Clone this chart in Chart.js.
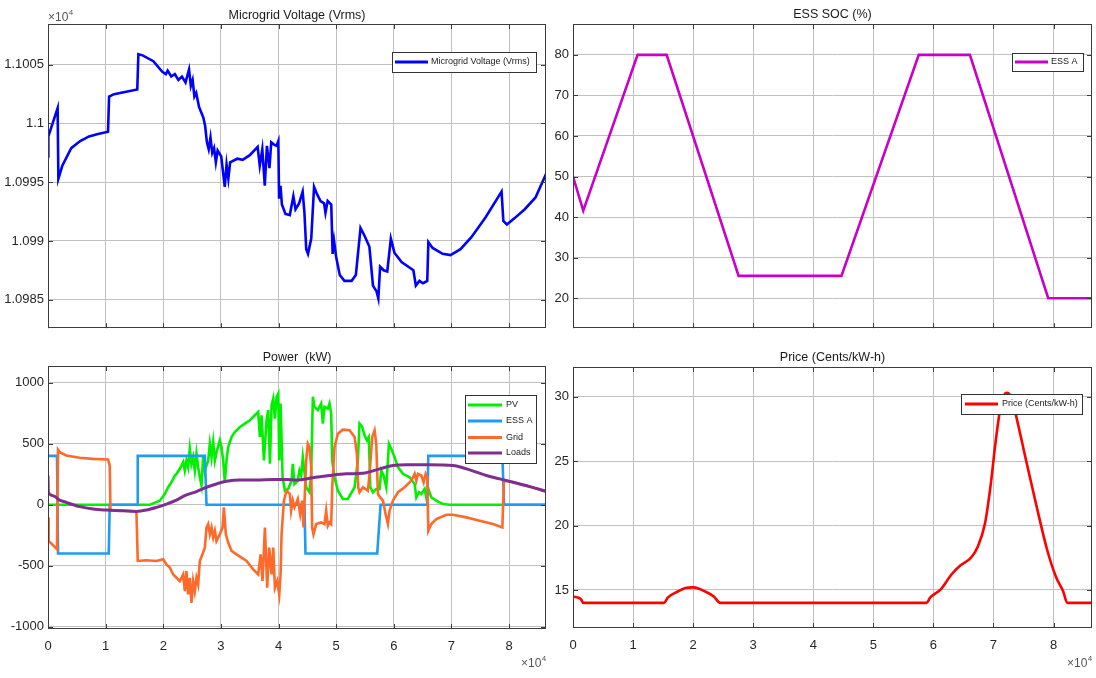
<!DOCTYPE html>
<html><head><meta charset="utf-8">
<script src="https://cdn.jsdelivr.net/npm/chart.js@4/dist/chart.umd.min.js"></script>
<style>
html,body{margin:0;padding:0;background:#fff;}
body{width:1096px;height:678px;overflow:hidden;position:relative;}
.p{position:absolute;}
</style></head><body>
<div class="p" style="left:0;top:0;width:548px;height:340px"><canvas id="cV"></canvas></div>
<div class="p" style="left:548px;top:0;width:548px;height:340px"><canvas id="cS"></canvas></div>
<div class="p" style="left:0;top:340px;width:560px;height:338px"><canvas id="cP"></canvas></div>
<div class="p" style="left:548px;top:340px;width:548px;height:338px"><canvas id="cR"></canvas></div>
<script>
// ---------- DATA (time in seconds) ----------
const xTicks = [0,10000,20000,30000,40000,50000,60000,70000,80000];
const xTickLabels = ['0','1','2','3','4','5','6','7','8'];

const voltTicks = [10985,10990,10995,11000,11005];
const voltTickLabels = ['1.0985','1.099','1.0995','1.1','1.1005'];
const socTicks = [20,30,40,50,60,70,80];
const socTickLabels = ['20','30','40','50','60','70','80'];
const powerTicks = [-1000,-500,0,500,1000];
const powerTickLabels = ['-1000','-500','0','500','1000'];
const priceTicks = [15,20,25,30];
const priceTickLabels = ['15','20','25','30'];

const voltage = [[0,10997.2],[60,10998.9],[1670,11001.3],[1800,10995.3],[2480,10996.4],[4030,10997.9],[5580,10998.5],[7120,10998.9],[8670,10999.1],[10410,10999.3],[10600,11002.3],[11460,11002.5],[15490,11002.9],[15680,11005.9],[16420,11005.8],[18280,11005.3],[19830,11004.4],[20450,11004.2],[20760,11004.5],[21380,11004.0],[22000,11004.2],[22620,11003.7],[23240,11004.0],[23860,11003.5],[24470,11004.6],[24780,11003.2],[25090,11003.7],[25400,11002.3],[25710,11002.6],[26210,11001.4],[26950,11000.5],[27260,10999.8],[27570,10998.4],[27880,10997.8],[28190,10998.8],[28500,10997.5],[28810,10997.9],[29120,10996.7],[29430,10997.7],[30050,10997.2],[30670,10994.6],[30980,10996.5],[31290,10995.3],[31600,10996.7],[32840,10997.0],[33770,10996.9],[35010,10997.3],[36370,10998.0],[36740,10996.4],[37180,10997.8],[37610,10994.7],[37980,10998.1],[38420,10996.2],[38730,10998.4],[39220,10998.2],[39650,10998.1],[39960,10998.5],[40090,10993.6],[40340,10994.7],[40580,10993.1],[41200,10992.3],[41950,10992.2],[42570,10993.8],[42940,10992.7],[43560,10993.2],[44180,10994.2],[44490,10992.4],[44800,10989.3],[45110,10988.9],[45670,10990.2],[46160,10994.6],[46660,10994.0],[47280,10993.4],[47900,10993.2],[48140,10992.4],[48520,10993.4],[49140,10993.1],[49380,10988.9],[49630,10990.0],[50000,10988.6],[50620,10987.1],[51430,10986.6],[52670,10986.6],[53410,10987.1],[54220,10991.1],[54960,10990.4],[55760,10989.5],[56380,10986.2],[57000,10985.7],[57310,10985.1],[57620,10987.8],[58240,10987.5],[58860,10987.4],[59480,10990.2],[60100,10989.0],[61340,10988.2],[63390,10987.5],[63820,10986.2],[64440,10986.6],[65060,10986.4],[65800,10986.6],[65990,10989.9],[66730,10989.4],[68470,10988.9],[69830,10988.8],[71560,10989.3],[73420,10990.3],[75900,10992.0],[78690,10994.2],[79000,10991.7],[79620,10991.4],[80860,10991.9],[82720,10992.7],[84580,10993.7],[86400,10995.7]];

const essSoc = [[0,50],[1710,41.6],[10750,80],[15590,80],[27570,25.5],[44690,25.5],[57560,80],[66070,80],[79110,20],[86400,20]];

const pvPower = [[0,0],[17660,0],[18240,11],[19390,33],[20260,88],[20840,143],[21420,184],[22000,239],[22290,253],[22870,294],[23450,349],[23730,280],[24020,363],[24310,308],[24600,459],[24890,335],[25180,390],[25470,280],[25760,418],[26050,308],[26340,225],[26630,157],[26920,404],[27210,280],[27790,363],[28080,500],[28370,390],[28660,514],[28950,363],[29240,431],[29810,527],[30100,473],[30390,363],[30680,184],[30970,363],[31260,473],[31840,555],[32420,596],[33290,637],[34160,665],[35020,692],[35890,733],[36470,761],[36760,555],[37050,733],[37460,363],[37920,692],[38210,775],[38500,335],[38790,816],[39080,871],[39370,706],[39660,885],[39950,912],[40120,363],[40350,830],[40700,225],[41100,115],[41680,129],[42260,198],[42470,335],[42760,170],[43340,198],[43630,280],[43920,239],[44210,390],[44790,143],[45370,102],[45660,253],[45950,885],[46240,802],[46820,775],[47400,830],[47680,665],[47970,802],[48550,788],[48840,830],[49130,747],[49310,363],[49710,225],[50290,115],[51160,47],[52030,47],[53190,143],[53760,363],[54050,665],[54520,637],[54920,569],[55330,527],[55670,555],[55910,143],[56370,102],[56950,129],[57530,129],[57820,280],[58220,239],[58690,143],[59150,500],[59550,459],[60130,390],[60710,308],[61580,253],[62740,225],[63610,170],[63900,60],[64360,102],[64770,88],[65340,129],[65630,60],[66100,115],[66500,60],[67370,33],[68530,5],[69690,0],[86400,0]];

const essPower = [[0,400],[1560,400],[1740,-400],[10540,-400],[10710,0],[15460,0],[15570,400],[27210,400],[27500,0],[44500,0],[44670,-400],[57120,-400],[57700,0],[65810,0],[65980,400],[78830,400],[79120,0],[86400,0]];

const gridPower = [[0,-104],[120,-297],[1560,-365],[1740,450],[2030,431],[3180,404],[5500,385],[7820,376],[10420,371],[10710,321],[10830,-44],[13030,-49],[15340,-55],[15570,-461],[17080,-456],[18820,-461],[20000,-448],[20550,-489],[21130,-516],[21710,-571],[22290,-599],[22870,-626],[23450,-571],[23740,-709],[24020,-544],[24310,-736],[24600,-599],[24890,-805],[25180,-626],[25470,-709],[25760,-599],[26050,-654],[26340,-461],[26800,-407],[27210,-352],[27500,-187],[27790,-159],[28080,-242],[28370,-187],[28660,-269],[28950,-214],[29230,-297],[29810,-242],[30280,-187],[30510,-22],[30850,-242],[31260,-310],[31840,-379],[32710,-407],[33580,-434],[34450,-461],[35600,-530],[36470,-571],[36880,-407],[37220,-626],[37630,-187],[38030,-681],[38380,-352],[38790,-571],[39080,-352],[39370,-681],[39770,-626],[40120,-736],[40350,-571],[40520,-242],[40930,33],[41390,115],[41970,88],[42180,-49],[42470,33],[42760,-22],[43340,47],[43750,-77],[44090,33],[44330,-187],[44790,363],[45080,500],[45370,472],[45660,308],[45830,-187],[46060,-242],[46530,-159],[47400,-146],[47970,-159],[48260,-49],[48550,-173],[48840,-146],[49130,-159],[49310,143],[49710,472],[50290,582],[51160,615],[52320,610],[53190,555],[53590,418],[53820,143],[54050,102],[54630,143],[55500,115],[55790,253],[56250,555],[56660,610],[56950,500],[57240,88],[57640,60],[58110,33],[58570,-77],[58970,-159],[59260,-49],[59840,33],[60710,102],[61870,143],[63030,198],[63610,253],[63900,198],[64190,253],[64770,239],[65170,184],[65520,253],[65810,225],[65980,-214],[66500,-159],[67370,-118],[69110,-82],[70270,-82],[72580,-104],[74900,-132],[77210,-159],[78830,-187],[79070,170],[79240,198],[80690,184],[83580,148],[86400,110]];

const loadsPower = [[0,239],[60,102],[870,74],[2030,38],[3180,19],[5500,-16],[7820,-36],[10130,-44],[13030,-49],[15340,-55],[17080,-44],[18820,-22],[20550,5],[22290,38],[24020,80],[25760,107],[27500,143],[29230,170],[30970,192],[33290,203],[36180,203],[39080,206],[41390,206],[43050,203],[45950,220],[48840,239],[51740,253],[54630,258],[57530,294],[59840,321],[62160,327],[66210,327],[70270,321],[72580,294],[76060,239],[78370,212],[80690,184],[83580,148],[86400,110]];

const price = [[0,14.5],[1300,14.3],[1710,14.0],[15170,14.0],[15760,14.4],[17540,14.9],[18700,15.15],[19900,15.2],[21000,15.1],[21670,14.95],[23440,14.5],[24500,14.0],[58860,14.0],[59450,14.4],[61220,15.05],[63000,16.2],[64470,16.9],[66240,17.5],[67420,18.4],[68600,20.2],[69490,23.0],[70380,26.6],[71260,29.4],[72150,30.3],[73030,29.9],[73920,28.2],[75400,25.1],[77170,21.5],[78940,18.1],[80410,16.0],[81590,14.9],[82300,14.0],[86400,14.0]];

// ---------- STYLE ----------
const FN = '"Liberation Sans", Arial, Helvetica, sans-serif';
const GRID = '#c0c0c0';
const TXT = '#262626';

function pts(arr){ return arr.map(p => ({x:p[0], y:p[1]})); }
function ds(label, arr, color, extra){
  return Object.assign({label, data:pts(arr), borderColor:color, backgroundColor:color, borderWidth:2.6,
    pointRadius:0, fill:false, tension:0}, extra||{});
}

const frame = {
  id:'frame',
  afterDatasetsDraw(chart, args, o){
    const ctx = chart.ctx, a = chart.chartArea, xs = chart.scales.x, ys = chart.scales.y;
    ctx.save();
    ctx.strokeStyle = '#3c3c3c'; ctx.lineWidth = 1;
    ctx.strokeRect(Math.round(a.left)+0.5, Math.round(a.top)+0.5, Math.round(a.width)-1, Math.round(a.height)-1);
    ctx.beginPath();
    xTicks.forEach(v => { const p = Math.round(xs.getPixelForValue(v))+0.5;
      ctx.moveTo(p, a.bottom); ctx.lineTo(p, a.bottom-5); ctx.moveTo(p, a.top); ctx.lineTo(p, a.top+5); });
    o.yTicks.forEach(v => { const p = Math.round(ys.getPixelForValue(v))+0.5;
      ctx.moveTo(a.left, p); ctx.lineTo(a.left+5, p); ctx.moveTo(a.right, p); ctx.lineTo(a.right-5, p); });
    ctx.stroke();
    // title
    ctx.fillStyle = '#1a1a1a'; ctx.font = '12.5px ' + FN; ctx.textAlign = 'center'; ctx.textBaseline = 'middle';
    ctx.fillText(o.title, (a.left + a.right)/2, o.titleY);
    // exponent label
    if (o.exp){
      ctx.fillStyle = '#555'; ctx.textAlign = 'left'; ctx.textBaseline = 'alphabetic';
      ctx.font = '12px ' + FN; ctx.fillText('\u00d710', o.exp.x, o.exp.y);
      const w = ctx.measureText('\u00d710').width;
      ctx.font = '8px ' + FN; ctx.fillText('4', o.exp.x + w + 0.5, o.exp.y - 6);
    }
    // legend
    const L = o.legend;
    ctx.fillStyle = '#fff'; ctx.fillRect(L.x1, L.y1, L.x2-L.x1, L.y2-L.y1);
    ctx.strokeStyle = '#333'; ctx.lineWidth = 1;
    ctx.strokeRect(L.x1+0.5, L.y1+0.5, L.x2-L.x1, L.y2-L.y1);
    ctx.font = '9px ' + FN; ctx.textAlign = 'left'; ctx.textBaseline = 'middle';
    chart.data.datasets.forEach((d, i) => {
      const y = L.rows[i];
      ctx.strokeStyle = d.borderColor; ctx.lineWidth = 3;
      ctx.beginPath(); ctx.moveTo(L.lx1, y); ctx.lineTo(L.lx2, y); ctx.stroke();
      ctx.fillStyle = '#1a1a1a'; ctx.fillText(d.label, L.tx, y);
    });
    ctx.restore();
  }
};

function makeChart(id, c){
  return new Chart(document.getElementById(id), {
    type:'line',
    data:{datasets:c.datasets},
    options:{
      animation:false, responsive:true, maintainAspectRatio:false, events:[],
      devicePixelRatio:1,
      layout:{padding:c.padding},
      plugins:{legend:{display:false}, tooltip:{enabled:false}, title:{display:false}, frame:c.frame},
      scales:{
        x:{type:'linear', min:0, max:86400,
          afterBuildTicks:s => { s.ticks = xTicks.map(v => ({value:v})); },
          afterFit:s => { s.height = c.xh; },
          grid:{color:GRID, lineWidth:1, drawTicks:false}, border:{display:false},
          ticks:{display:c.xLabels, padding:10, color:TXT, font:{family:FN, size:13}, autoSkip:false, maxRotation:0,
            callback:(v,i) => xTickLabels[i]}},
        y:{type:'linear', min:c.ymin, max:c.ymax,
          afterBuildTicks:s => { s.ticks = c.yTicks.map(v => ({value:v})); },
          afterFit:s => { s.width = c.yw; },
          grid:{color:GRID, lineWidth:1, drawTicks:false}, border:{display:false},
          ticks:{padding:4, color:TXT, font:{family:FN, size:13}, autoSkip:false,
            callback:(v,i) => c.yLabels[i]}}
      }
    },
    plugins:[frame]
  });
}

// Voltage
makeChart('cV', {
  datasets:[ds('Microgrid Voltage (Vrms)', voltage, '#0000ff')],
  padding:{left:0, top:24, right:2, bottom:10}, yw:48, xh:0, xLabels:false,
  ymin:10982.57, ymax:11008.47, yTicks:voltTicks, yLabels:voltTickLabels,
  frame:{title:'Microgrid Voltage (Vrms)', titleY:16, yTicks:voltTicks, exp:{x:48, y:21},
    legend:{x1:392, y1:52, x2:536, y2:72, lx1:395, lx2:428, tx:431, rows:[62]}}
});

// SOC
makeChart('cS', {
  datasets:[ds('ESS A', essSoc, '#c800c8')],
  padding:{left:0, top:24, right:4, bottom:10}, yw:25, xh:0, xLabels:false,
  ymin:12.6, ymax:87.6, yTicks:socTicks, yLabels:socTickLabels,
  frame:{title:'ESS SOC (%)', titleY:15, yTicks:socTicks,
    legend:{x1:464, y1:53, x2:535, y2:71, lx1:467, lx2:500, tx:503, rows:[62]}}
});

// Power
makeChart('cP', {
  datasets:[
    ds('PV', pvPower, '#00f000', {order:4}),
    ds('ESS A', essPower, '#1e9bf5', {order:3}),
    ds('Grid', gridPower, '#ff6a2a', {order:2}),
    ds('Loads', loadsPower, '#7e2f8e', {order:1, cubicInterpolationMode:'monotone', borderWidth:3})
  ],
  padding:{left:0, top:26, right:14, bottom:19}, yw:48, xh:30, xLabels:true,
  ymin:-1019, ymax:1137, yTicks:powerTicks, yLabels:powerTickLabels,
  frame:{title:'Power  (kW)', titleY:18, yTicks:powerTicks, exp:{x:521, y:327},
    legend:{x1:465, y1:55, x2:536, y2:123, lx1:468, lx2:502, tx:506, rows:[65,81,97.5,113]}}
});

// Price
makeChart('cR', {
  datasets:[ds('Price (Cents/kW-h)', price, '#ff0000', {cubicInterpolationMode:'monotone'})],
  padding:{left:0, top:27, right:4, bottom:20}, yw:25, xh:30, xLabels:true,
  ymin:12.05, ymax:32.3, yTicks:priceTicks, yLabels:priceTickLabels,
  frame:{title:'Price (Cents/kW-h)', titleY:18, yTicks:priceTicks, exp:{x:519, y:327},
    legend:{x1:413, y1:54, x2:534, y2:74, lx1:417, lx2:450, tx:454, rows:[64]}}
});
</script>
</body></html>
